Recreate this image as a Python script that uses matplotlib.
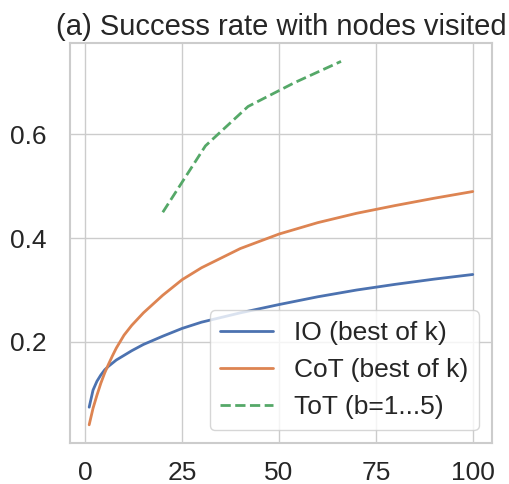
import numpy as np
import matplotlib
matplotlib.use('Agg')
import matplotlib.pyplot as plt
import seaborn as sns

# success rate vs. number of nodes visited
k_vals = [1, 2, 3, 4, 5, 6, 7, 8, 10, 12, 15, 20, 25, 30, 40, 50, 60, 70, 80, 90, 100]
io_rate = [0.074, 0.107, 0.124, 0.136, 0.146, 0.153, 0.159, 0.165, 0.174, 0.183,
           0.195, 0.211, 0.226, 0.238, 0.256, 0.272, 0.287, 0.300, 0.311, 0.321, 0.330]
cot_rate = [0.040, 0.072, 0.097, 0.120, 0.140, 0.157, 0.173, 0.188, 0.213, 0.232,
            0.256, 0.290, 0.320, 0.343, 0.380, 0.408, 0.430, 0.448, 0.463, 0.477, 0.490]
tot_nodes = [20, 31, 42, 54, 66]
tot_rate = [0.450, 0.578, 0.654, 0.700, 0.741]

sns.set_theme(style='whitegrid')
plt.rcParams['font.family'] = ['Liberation Sans', 'DejaVu Sans']

fig = plt.figure(figsize=(5.09, 4.84), dpi=100)
ax = fig.add_axes([0.1375, 0.0847, 0.829, 0.826])

pal = sns.color_palette('deep')
ax.plot(k_vals, io_rate, color=pal[0], lw=2, label='IO (best of k)')
ax.plot(k_vals, cot_rate, color=pal[1], lw=2, label='CoT (best of k)')
ax.plot(tot_nodes, tot_rate, color=pal[2], lw=2, ls='--', label='ToT (b=1...5)')

ax.set_xticks([0, 25, 50, 75, 100])
ax.set_yticks([0.2, 0.4, 0.6])
ax.tick_params(axis='x', labelsize=19, pad=7)
ax.tick_params(axis='y', labelsize=19, pad=11)
for s in ax.spines.values():
    s.set_linewidth(1.5)
ax.set_title('(a) Success rate with nodes visited', fontsize=21, pad=6)
ax.legend(loc='lower right', fontsize=19)

fig.savefig('out.png', dpi=100)
